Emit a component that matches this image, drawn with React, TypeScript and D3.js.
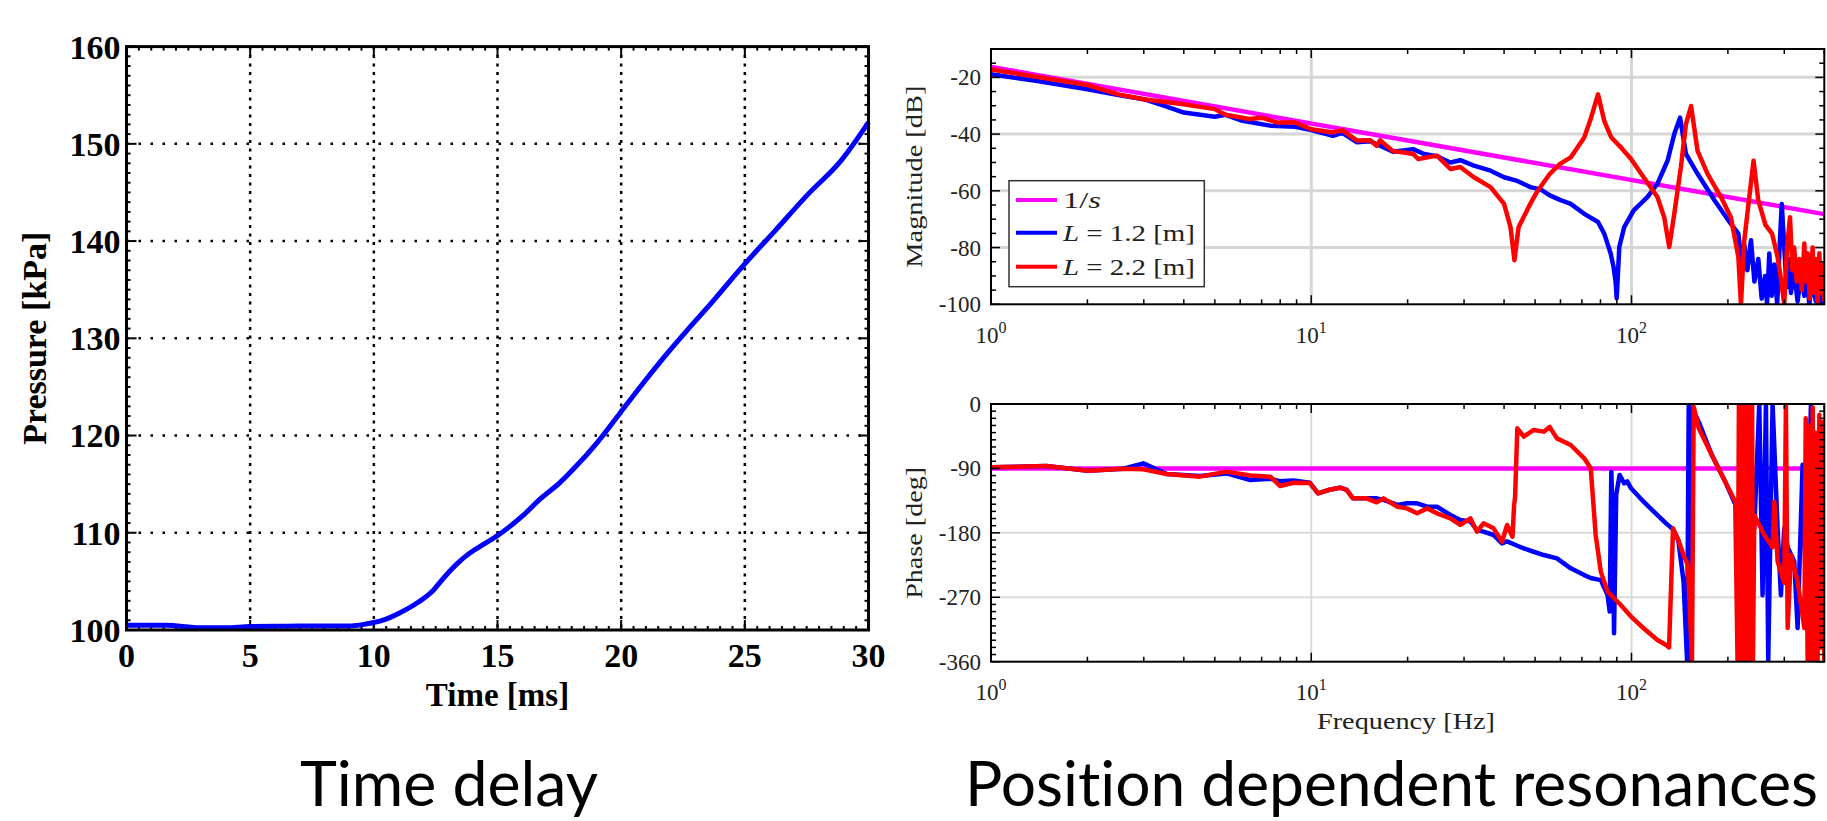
import * as d3 from 'd3';

const W = 1827;
const H = 821;
const SERIF = "'Liberation Serif', 'Times New Roman', serif";

// ---- left panel: pressure step response ----
const timeMs = [0, 1, 1.6, 3, 4, 5, 6, 7, 8, 9, 9.6, 10.4, 11, 11.76, 12.43, 12.64, 13.36, 13.77, 14.3, 15.05, 16, 16.74, 17.5, 18.09, 19.04, 19.98, 20.8, 21.88, 22.69, 23.5, 24.98, 26.2, 27.55, 28.9, 30];
const pressureKPa = [100.5, 100.5, 100.49, 100.22, 100.22, 100.36, 100.38, 100.4, 100.4, 100.42, 100.58, 101.03, 101.7, 102.8, 104.15, 104.8, 106.8, 107.7, 108.6, 109.8, 111.7, 113.5, 115.1, 116.6, 119.3, 122.4, 125.1, 128.5, 130.9, 133.2, 137.6, 141, 144.8, 148.3, 152.2];
const timeTicks = [0, 5, 10, 15, 20, 25, 30];
const pressureTicks = [100, 110, 120, 130, 140, 150, 160];

// ---- right panels: bode plot, [Hz, value] ----
const freqDecades = [1, 10, 100];
const freqExponents = ['0', '1', '2'];
const magTicks = [-20, -40, -60, -80, -100];
const phaseTicks = [0, -90, -180, -270, -360];

const integratorMag = [[1, -16.3], [400, -68.2]];
const integratorPhase = [[1, -90], [400, -90]];

const shortMag = [
  [1, -18.9], [1.38, -21.2], [2, -24.2], [2.5, -26.2], [3, -27.7], [3.5, -30.1], [4, -32.4], [5, -33.9], [5.4, -33.2],
  [6.1, -35.3], [7.5, -37.1], [8.9, -37.4], [10, -38.6], [11.7, -40.6], [12.5, -39.6], [13.9, -42.9], [15.3, -42.5],
  [18, -46.2], [20.8, -45.3], [22.5, -47], [24.7, -47.8], [27.2, -50], [29.2, -49.2], [32.2, -51.1], [36.3, -52.9],
  [40, -55.2], [44, -56.5], [48.3, -58.7], [52, -59.5], [55.6, -61.6], [59.8, -63.2], [64.6, -64.6], [71.2, -68.1],
  [78.6, -71], [82.2, -75.1], [86.1, -82.1], [87.9, -86.8], [89.2, -92], [89.9, -97.9], [91.6, -79.8], [94.9, -72.8],
  [101.6, -66.9], [112.1, -62.2], [120.5, -57.5], [129.6, -49.4], [136, -40], [141.8, -34.2], [147.9, -47],
  [160.8, -54], [181.8, -63.4], [200.6, -70.4], [215.6, -75.1], [220, -84], [225, -79], [230, -88], [236.1, -77.4],
  [242, -92], [248.9, -84], [255, -98], [261.4, -90], [265, -100], [269.3, -82.1], [274, -97], [279.2, -86],
  [285, -100], [290, -80], [294.6, -64.6], [299.9, -79.8], [305, -94], [310, -84], [314.7, -96], [322, -88],
  [330.1, -99], [338, -90], [346.6, -97], [352, -88], [359, -100], [367, -92], [376.4, -99], [383, -90], [390.5, -100],
  [400, -93],
];

const longMag = [
  [1, -17.2], [2, -22.7], [2.5, -26], [3, -27.7], [4, -29.5], [5, -31.2], [5.4, -33.2], [6.4, -34.7], [7, -34.2],
  [7.8, -35.9], [8.9, -35.9], [10, -38.3], [11.7, -39.4], [12.5, -38.6], [13.9, -42.3], [15.3, -42.2], [16, -44.1],
  [16.4, -42.2], [18, -46], [19.5, -46.5], [20.8, -47], [21.6, -48.8], [24.7, -47.6], [27.2, -52.3], [29.2, -51.6],
  [32.2, -55.2], [36.3, -58.7], [40, -64.6], [41.9, -72.8], [43.1, -84.5], [44.4, -72.8], [48.3, -64.6], [50.6, -60.5],
  [55.6, -54], [59.8, -50.5], [64.6, -48.2], [71.2, -41.2], [74.8, -34.2], [78.6, -26], [82.2, -35.3], [86.5, -41.2],
  [92.7, -44.7], [99.7, -48.8], [109.1, -55.2], [120.5, -62.2], [126.5, -69.3], [131.2, -79.8], [136, -68.1],
  [142.6, -51.7], [147.9, -36.5], [153.5, -30.1], [160.8, -45.9], [172.8, -54], [190.3, -62.2], [204.3, -69.3],
  [215.6, -83.3], [219.7, -100], [225, -77.4], [240.5, -49.4], [248.9, -63.4], [262, -72], [274.8, -75.1],
  [285.9, -83.3], [292, -90], [299.9, -100], [306, -80], [312.6, -69.3], [318, -88], [322, -80], [328, -92],
  [334, -84], [340, -95], [346.6, -78.6], [350, -92], [354.8, -82], [360, -98], [367.8, -80], [372, -96],
  [376.4, -84], [381, -100], [386, -82], [390, -96], [395.4, -86], [400, -99],
];

const shortPhase = [
  [1, -88.5], [1.49, -86.6], [2.01, -93.1], [2.59, -90.4], [2.99, -82.9], [3.54, -97.8], [4.49, -100.5], [5.44, -97],
  [6.45, -106.2], [7.45, -104.5], [8, -108], [8.8, -107], [9.9, -110], [10.5, -124.8], [11.4, -119.8], [12.3, -116.9],
  [12.9, -120], [13.5, -131.8], [14.9, -131.8], [16, -131.8], [16.8, -134], [18.6, -141], [19.9, -138.7],
  [21.4, -138.7], [23, -143.5], [24.7, -143.5], [27.2, -155], [29.2, -162], [31.4, -164], [32.9, -176], [34.5, -178.3],
  [37.1, -183], [39.4, -194.7], [40.9, -192], [44, -198], [46.1, -201.7], [49.5, -206.4], [53.2, -211], [58.5, -215.7],
  [64.6, -229.6], [71.2, -239], [74.6, -243], [80.2, -246], [84.2, -266.8], [85.5, -290], [86.5, -94.5], [87.3, -150],
  [88.2, -320.3], [89.6, -127], [91.8, -99.1], [94.9, -110.8], [97, -108], [99.7, -117.8], [109.1, -136.5],
  [120.5, -155.2], [128.2, -166.8], [134.8, -175], [140, -190], [145.4, -248.3], [149.1, -358], [150.9, 0],
  [152.7, -358], [154.5, -5], [162.2, -25], [178.1, -71], [196.2, -108.5], [210.8, -140], [222, -150], [241.8, -173.7],
  [250.6, 0], [256.6, -267], [262.9, 0], [267.3, -358], [275.8, 0], [285.9, -173.7], [292.8, -267], [299.9, -173.7],
  [307.3, -200], [322.3, -220], [330.1, -313], [342.2, -85], [350.6, -267], [363.4, 0], [372.2, -358], [386, -197],
  [400, -127],
];

const longPhase = [
  [1, -88.5], [1.49, -86.6], [2.01, -93.1], [2.59, -90.4], [2.99, -91.3], [3.54, -97.8], [4.49, -101.5], [5.44, -94.5],
  [6.45, -100], [7.45, -101.5], [8, -114.6], [8.8, -110], [9.9, -110.5], [10.5, -124.8], [11.4, -119.8], [12.3, -116.9],
  [12.9, -120], [13.5, -131.8], [14.9, -131.8], [16, -137.4], [16.8, -131.8], [18.6, -143.5], [19.9, -145.8],
  [21.4, -152.7], [23, -145.8], [24.7, -152.7], [27.2, -159.7], [29.2, -169], [31.4, -159.7], [32.9, -178.3],
  [34.5, -166.7], [37.1, -173.7], [39.4, -192.4], [40.9, -169], [42.5, -185.4], [43, -141], [43.3, -130], [44, -34],
  [46.1, -45.6], [49.5, -36.3], [53.2, -38.6], [55.5, -32], [58.5, -48], [64.6, -57.3], [71.2, -75.9], [74.6, -89.9],
  [77.3, -183], [80.2, -234.2], [84.2, -262.2], [91.8, -279], [99.7, -297], [109.1, -313.3], [120.5, -329.6],
  [128.2, -336.6], [131, -340], [134.8, -174], [140, -190], [145.4, -211], [150, -225], [154.5, -358], [156.4, -4],
  [162.2, -34], [178.1, -71.2], [196.2, -108.5], [210.8, -136.5], [214.4, -360], [216.5, 0], [218.6, -360],
  [220.7, 0], [222.8, -360], [225, 0], [227.2, -360], [229.3, 0], [231.5, -360], [233.8, 0], [236.1, -360], [238, 0],
  [239.5, -360], [241.8, -155], [259.8, -183], [275.8, -200], [279.2, -136.5], [285.9, -220], [299.9, -250],
  [303.5, 0], [307.3, -313], [314.7, -211], [330.1, -248], [346.6, -313], [350, -20], [354.8, -358], [359, -30],
  [363.4, -358], [368, -5], [372.2, -358], [376, -40], [381.2, -358], [386, -15], [390.5, -340], [395, -25],
  [400, -358],
];

const MAGENTA = '#ff00ff';
const BLUE = '#0000ff';
const RED = '#ff0000';

const xF = d3.scaleLog().domain([1, 400]).range([991, 1824.3]);

function freqMinor() {
  const out: number[] = [];
  freqDecades.forEach(d => {
    for (let k = 2; k <= 9; k++) if (k * d <= 400) out.push(k * d);
  });
  return out;
}

function BodePanel({ id, y, yTicks, yMinorStep, gridY, gridW, gridColor, series, xLabelBase, yLabel, yLabelLen }) {
  const [x0, x1] = xF.range();
  const [yb, yt] = y.range();
  const [d0, d1] = y.domain();
  const yMinor = d3.range(d0, d1 + 0.001, yMinorStep);
  const line = d3.line().x(d => xF(d[0])).y(d => y(d[1]));
  return (
    <g>
      <defs>
        <clipPath id={id}>
          <rect x={x0} y={yt} width={x1 - x0} height={yb - yt} />
        </clipPath>
      </defs>
      {gridY.map(v => (
        <line key={'gy' + v} x1={x0} x2={x1} y1={y(v)} y2={y(v)} stroke={gridColor} strokeWidth={gridW} />
      ))}
      {[10, 100].map(f => (
        <line key={'gx' + f} x1={xF(f)} x2={xF(f)} y1={yt} y2={yb} stroke={gridColor} strokeWidth={gridW} />
      ))}
      <g clipPath={`url(#${id})`}>
        {series.map(s => (
          <path key={s.key} d={line(s.data)} fill="none" stroke={s.color} strokeWidth={4.5} strokeLinejoin="round" />
        ))}
      </g>
      {/* ticks, inward on all four sides */}
      {freqMinor().map(f => (
        <g key={'mx' + f} stroke="#000" strokeWidth={1.5}>
          <line x1={xF(f)} x2={xF(f)} y1={yb} y2={yb - 5} />
          <line x1={xF(f)} x2={xF(f)} y1={yt} y2={yt + 5} />
        </g>
      ))}
      {freqDecades.map(f => (
        <g key={'Mx' + f} stroke="#000" strokeWidth={1.5}>
          <line x1={xF(f)} x2={xF(f)} y1={yb} y2={yb - 9} />
          <line x1={xF(f)} x2={xF(f)} y1={yt} y2={yt + 9} />
        </g>
      ))}
      {yMinor.map(v => {
        const major = yTicks.includes(Math.round(v));
        const len = major ? 9 : 5;
        return (
          <g key={'my' + v} stroke="#000" strokeWidth={1.5}>
            <line x1={x0} x2={x0 + len} y1={y(v)} y2={y(v)} />
            <line x1={x1} x2={x1 - len} y1={y(v)} y2={y(v)} />
          </g>
        );
      })}
      <rect x={x0} y={yt} width={x1 - x0} height={yb - yt} fill="none" stroke="#000" strokeWidth={2} />
      {yTicks.map(v => (
        <text key={'ly' + v} x={x0 - 10} y={y(v)} dy="0.35em" textAnchor="end" fontFamily={SERIF} fontSize={23} fill="#222">
          {v}
        </text>
      ))}
      {freqDecades.map((f, i) => (
        <text key={'lx' + f} x={xF(f)} y={xLabelBase} textAnchor="middle" fontFamily={SERIF} fontSize={23} fill="#222">
          <tspan>10</tspan>
          <tspan dy={-10} fontSize={16}>{freqExponents[i]}</tspan>
        </text>
      ))}
      <text
        transform={`translate(922,${(yt + yb) / 2}) rotate(-90)`}
        textAnchor="middle"
        fontFamily={SERIF}
        fontSize={24}
        fill="#222"
        textLength={yLabelLen}
        lengthAdjust="spacingAndGlyphs"
      >
        {yLabel}
      </text>
    </g>
  );
}

export default function App() {
  // left panel scales
  const xT = d3.scaleLinear().domain([0, 30]).range([126.5, 868.5]);
  const yP = d3.scaleLinear().domain([100, 160]).range([630, 46.6]);
  const pts = timeMs.map((t, i) => [t, pressureKPa[i]]);
  const pLine = d3.line().x(d => xT(d[0])).y(d => yP(d[1])).curve(d3.curveMonotoneX);

  const yMag = d3.scaleLinear().domain([-100, -10]).range([304.3, 49]);
  const yPh = d3.scaleLinear().domain([-360, 0]).range([661.7, 404]);

  const [lx0, lx1] = xT.range();
  const [ly0, ly1] = yP.range();

  const legendRows = [
    { color: MAGENTA, y: 200, len: 38, parts: [['1/', false], ['s', true]] },
    { color: BLUE, y: 232.7, len: 132, parts: [['L', true], [' = 1.2 [m]', false]] },
    { color: RED, y: 266.7, len: 132, parts: [['L', true], [' = 2.2 [m]', false]] },
  ];

  const captionStyle = { fontVariantLigatures: 'none' as const };

  return (
    <svg width={W} height={H} style={{ position: 'absolute', left: 0, top: 0, background: '#fff' }}>
      <rect width={W} height={H} fill="#fff" />

      {/* ===== left: Time delay ===== */}
      {timeTicks.slice(1, -1).map(t => (
        <line key={'gt' + t} x1={xT(t)} x2={xT(t)} y1={ly1} y2={ly0} stroke="#000" strokeWidth={2.5} strokeDasharray="3 5.5" />
      ))}
      {pressureTicks.slice(1, -1).map(p => (
        <line key={'gp' + p} x1={lx0} x2={lx1} y1={yP(p)} y2={yP(p)} stroke="#000" strokeWidth={2.5} strokeDasharray="2.5 9.5" />
      ))}
      {d3.range(0, 30.01, 0.5).map(t => {
        const len = t % 5 === 0 ? 10 : 4;
        return (
          <g key={'tt' + t} stroke="#000" strokeWidth={2}>
            <line x1={xT(t)} x2={xT(t)} y1={ly0} y2={ly0 - len} />
            <line x1={xT(t)} x2={xT(t)} y1={ly1} y2={ly1 + len} />
          </g>
        );
      })}
      {d3.range(100, 160.01, 1).map(p => {
        const len = p % 10 === 0 ? 10 : 4;
        return (
          <g key={'tp' + p} stroke="#000" strokeWidth={2}>
            <line x1={lx0} x2={lx0 + len} y1={yP(p)} y2={yP(p)} />
            <line x1={lx1} x2={lx1 - len} y1={yP(p)} y2={yP(p)} />
          </g>
        );
      })}
      <path d={pLine(pts)} fill="none" stroke={BLUE} strokeWidth={5} strokeLinejoin="round" />
      <rect x={lx0} y={ly1} width={lx1 - lx0} height={ly0 - ly1} fill="none" stroke="#000" strokeWidth={3} />
      {pressureTicks.map(p => (
        <text key={'lp' + p} x={lx0 - 6} y={yP(p)} dy="0.35em" textAnchor="end" fontFamily={SERIF} fontWeight="bold" fontSize={34}>
          {p}
        </text>
      ))}
      {timeTicks.map(t => (
        <text key={'lt' + t} x={xT(t)} y={667} textAnchor="middle" fontFamily={SERIF} fontWeight="bold" fontSize={34}>
          {t}
        </text>
      ))}
      <text x={(lx0 + lx1) / 2} y={706} textAnchor="middle" fontFamily={SERIF} fontWeight="bold" fontSize={33}>
        Time [ms]
      </text>
      <text transform={`translate(46,${(ly0 + ly1) / 2}) rotate(-90)`} textAnchor="middle" fontFamily={SERIF} fontWeight="bold" fontSize={34}>
        Pressure [kPa]
      </text>

      {/* ===== right: magnitude ===== */}
      <BodePanel
        id="clipMag"
        y={yMag}
        yTicks={magTicks}
        yMinorStep={5}
        gridY={[-20, -40, -60, -80]}
        gridW={3}
        gridColor="#d6d6d6"
        series={[
          { key: 'int', color: MAGENTA, data: integratorMag },
          { key: 's', color: BLUE, data: shortMag },
          { key: 'l', color: RED, data: longMag },
        ]}
        xLabelBase={343}
        yLabel="Magnitude [dB]"
        yLabelLen={182}
      />
      {/* legend */}
      <rect x={1009} y={180.7} width={195.3} height={106} fill="#fff" stroke="#333" strokeWidth={1.5} />
      {legendRows.map((r, i) => (
        <g key={'lg' + i}>
          <line x1={1016} x2={1057} y1={r.y} y2={r.y} stroke={r.color} strokeWidth={4} />
          <text x={1063} y={r.y + 8} fontFamily={SERIF} fontSize={23} fill="#222" textLength={r.len} lengthAdjust="spacingAndGlyphs">
            {r.parts.map((p, j) => (
              <tspan key={j} fontStyle={p[1] ? 'italic' : 'normal'}>{p[0]}</tspan>
            ))}
          </text>
        </g>
      ))}

      {/* ===== right: phase ===== */}
      <BodePanel
        id="clipPh"
        y={yPh}
        yTicks={phaseTicks}
        yMinorStep={10}
        gridY={[-90, -180, -270]}
        gridW={2}
        gridColor="#dadada"
        series={[
          { key: 'int', color: MAGENTA, data: integratorPhase },
          { key: 's', color: BLUE, data: shortPhase },
          { key: 'l', color: RED, data: longPhase },
        ]}
        xLabelBase={700}
        yLabel="Phase [deg]"
        yLabelLen={132}
      />
      <text x={1406} y={729} textAnchor="middle" fontFamily={SERIF} fontSize={24} fill="#222" textLength={178} lengthAdjust="spacingAndGlyphs">
        Frequency [Hz]
      </text>

      {/* ===== slide captions ===== */}
      <text x={449} y={806} textAnchor="middle" fontFamily="Lato, 'Open Sans', sans-serif" fontSize={62} textLength={298} lengthAdjust="spacingAndGlyphs" style={captionStyle}>
        Time delay
      </text>
      <text x={1391.5} y={806} textAnchor="middle" fontFamily="Lato, 'Open Sans', sans-serif" fontSize={62} textLength={853} lengthAdjust="spacingAndGlyphs" style={captionStyle}>
        Position dependent resonances
      </text>
    </svg>
  );
}
